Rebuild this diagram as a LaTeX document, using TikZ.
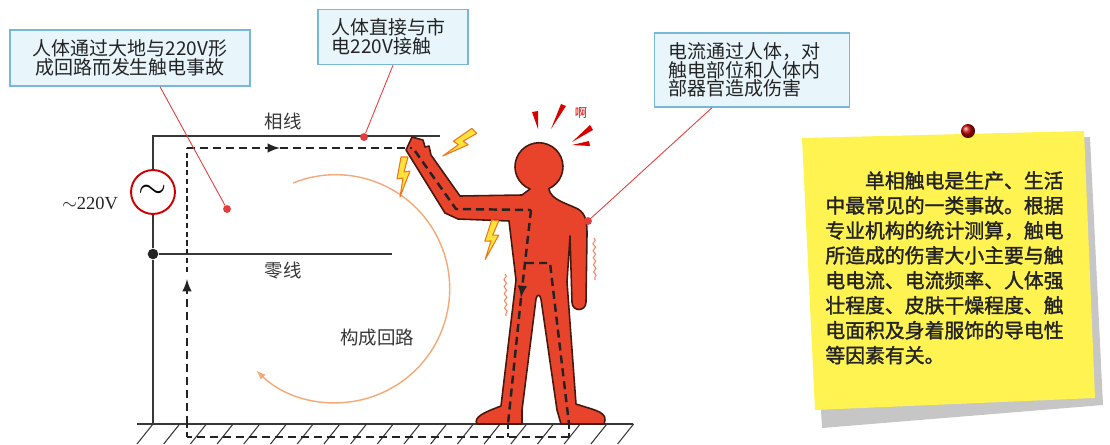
\documentclass[tikz,border=0pt]{standalone}
\usepackage{fontspec}
\setmainfont{Liberation Serif}
\newfontfamily\cjk{Noto Sans CJK SC}
\newfontfamily\cjknote[FakeBold=1.6]{Noto Sans CJK SC}
\usetikzlibrary{decorations.pathmorphing}

\definecolor{skin}{RGB}{232,68,44}
\definecolor{skinline}{RGB}{70,25,15}
\definecolor{boxfill}{RGB}{232,246,251}
\definecolor{boxline}{RGB}{118,184,214}
\definecolor{pointcol}{RGB}{226,62,62}
\definecolor{loopcol}{RGB}{244,168,118}
\definecolor{boltfill}{RGB}{255,226,60}
\definecolor{boltline}{RGB}{238,118,30}
\definecolor{notefill}{RGB}{255,243,82}
\definecolor{ink}{RGB}{35,35,35}
\definecolor{wirecol}{RGB}{55,55,55}

\tikzset{bolt/.pic={
  \filldraw[fill=boltfill, draw=boltline, line width=0.6pt, line join=round]
    (-2,-20) -- (5,-20) -- (1,-5) -- (7,-6) -- (-3,20) -- (0,1) -- (-6,2) -- cycle;}}

\begin{document}
\begin{tikzpicture}[x=0.02cm, y=-0.02cm,
    callout/.style={rectangle, draw=boxline, fill=boxfill, line width=0.8pt, inner sep=0pt,
      font=\cjk\fontsize{10.8pt}{10.6pt}\selectfont, text=ink},
    hit/.style={circle, fill=pointcol, inner sep=0pt, minimum size=4.5pt}]
    \tikzstyle{leader}=[pointcol, line width=0.5pt]
    \tikzstyle{flow}=[ink, line width=1.4pt, dash pattern=on 4.6pt off 2.8pt]
    \tikzstyle{thinflow}=[ink, line width=0.6pt, dash pattern=on 3pt off 2pt]
    \tikzstyle{wire}=[wirecol, line width=0.7pt]
    \tikzstyle{tag}=[font=\cjk\fontsize{10.5pt}{12pt}\selectfont, text=wirecol]
    \tikzstyle{shake}=[loopcol!80!red, line width=0.6pt, decorate,
      decoration={snake, amplitude=0.7pt, segment length=4pt}]

    \useasboundingbox (0,0) rectangle (1110,444);

    % mains, source and ground
    \node[circle, draw=red!80!black, fill=white, line width=1.1pt, minimum size=25pt,
      inner sep=0pt, font=\huge] (src) at (153,192) {$\sim$};
    \node[font=\fontsize{10.5pt}{12pt}\selectfont, text=ink] (volt) at (90,203) {$\sim$220V};
    \coordinate (top) at (153,136);
    \coordinate (phend) at (440,136);
    \node[circle, fill=ink, inner sep=0pt, minimum size=6pt] (jn) at (153,254) {};
    \coordinate (nend) at (392,254);
    \coordinate (gl) at (137,424);
    \coordinate (gr) at (633,424);
    \coordinate (foot) at (153,424);
    \draw[wire] (src) -- (top) -- (phend);
    \draw[wire] (src) -- (jn) -- (foot);
    \draw[wire] (jn) -- (nend);
    \draw[wire, line width=0.9pt] (gl) -- (gr);
    \foreach \i in {0,...,18}
      \draw[wire, line width=0.6pt] (153+26.7*\i,424) -- ++(-16,20);
    \node[tag] (phase) at (283,121) {相线};
    \node[tag] (neutral) at (283,271) {零线};

    % loop arrow
    \draw[loopcol, line width=0.8pt, -latex] (293,183) arc[start angle=-112, end angle=134, radius=114];
    \node[tag] (loop) at (377,338) {构成回路};

    % the person
    \filldraw[fill=skin, draw=skinline, line width=0.9pt, line join=round]
      (412,137) -- (423,140) -- (425,147) -- (429,146) -- (431,155)
      -- (460,196) -- (522,195)
      -- (530,189) arc[start angle=112, end angle=426, radius=24]
      .. controls (551,200) and (566,203) .. (578,209)
      .. controls (586,214) and (587,222) .. (587,234)
      -- (586,302) .. controls (586,312) and (572,312) .. (572,302)
      -- (570,236) -- (567,282) -- (576,404)
      .. controls (590,409) and (606,411) .. (605,420) -- (604,424) -- (561,424) -- (557,410)
      -- (541,299) .. controls (540,294) and (537,294) .. (536,299)
      -- (522,410) -- (522,424) -- (477,424)
      .. controls (473,417) and (485,412) .. (501,406)
      -- (516,280) -- (509,221) -- (458,219) -- (445,213) -- (406,150) -- cycle;

    % shouts over the head
    \fill[red!85!black] (532,112) -- (538,111) -- (538,129) -- cycle;
    \fill[red!85!black] (561,104) -- (566,106) -- (551,129) -- cycle;
    \fill[red!85!black] (590,125) -- (593,130) -- (572,142) -- cycle;
    \fill[red!85!black] (589,141) -- (590,146) -- (572,145) -- cycle;
    \node[font=\cjk\fontsize{7pt}{8pt}\selectfont, text=red!85!black] (ah) at (581,113) {啊};

    % sparks and trembling
    \pic[rotate=-45] at (459,144) {bolt};
    \pic at (403,177) {bolt};
    \pic[rotate=-8] at (491,240) {bolt};
    \draw[shake] (505,274) -- (506,316);
    \draw[shake] (594,238) -- (595,280);

    % current path
    \coordinate (tl) at (187,148);
    \coordinate (tarr) at (280,148);
    \coordinate (hand) at (412,148);
    \coordinate (elbow) at (456,209);
    \coordinate (chest) at (531,210);
    \coordinate (tarrow) at (521,298);
    \coordinate (lheel) at (508,424);
    \coordinate (lgnd) at (508,437);
    \coordinate (hip) at (526,263);
    \coordinate (rhip) at (550,263);
    \coordinate (rheel) at (569,424);
    \coordinate (rgnd) at (569,437);
    \coordinate (bl) at (187,437);
    \coordinate (larr) at (187,279);
    \coordinate (lmid) at (187,272);
    \draw[flow, -latex] (tl) -- (tarr);
    \draw[flow] (tarr) -- (hand);
    \draw[flow] (415,151) -- (elbow) -- (chest);
    \draw[flow, -latex] (chest) -- (tarrow);
    \draw[flow] (tarrow) -- (lheel);
    \draw[thinflow] (lheel) -- (lgnd);
    \draw[flow] (hip) -- (rhip) -- (rheel);
    \draw[thinflow] (rheel) -- (rgnd);
    \draw[flow, line width=1pt] (rgnd) -- (bl);
    \draw[thinflow] (bl) -- (187,424);
    \draw[flow, -latex] (187,424) -- (larr);
    \draw[thinflow] (lmid) -- (tl);

    % callouts
    \node[callout, minimum width=4.8cm, minimum height=1.12cm, align=center] (earthbox) at (130,58)
      {人体通过大地与220V形\\成回路而发生触电事故};
    \node[callout, minimum width=3cm, minimum height=1.1cm, align=left, text width=2.45cm] (touchbox) at (393,37)
      {人体直接与市\\电220V接触};
    \node[callout, minimum width=3.9cm, minimum height=1.48cm, align=left, text width=3.35cm] (harmbox) at (752,70)
      {电流通过人体，对\\触电部位和人体内\\部器官造成伤害};
    \node[hit] (hit1) at (227,209) {};
    \node[hit] (hit2) at (364,137) {};
    \node[hit] (hit3) at (588,221) {};
    \draw[leader] ([xshift=0.6cm]earthbox.south) -- (hit1);
    \draw[leader] (touchbox.south) -- (hit2);
    \draw[leader] ([xshift=-0.8cm]harmbox.south) -- (hit3);

    % sticky note
    \fill[gray!45] (806,146) -- (1090,137) -- (1103,405) -- (822,428) -- cycle;
    \fill[notefill] (802,138) -- (1084,131) -- (1095,398) -- (815,410) -- cycle;
    \shade[ball color=red!75!black] (968,131) circle[radius=7];
    \node[anchor=north west, inner sep=0pt, align=left, text=ink,
      font=\cjknote\fontsize{11.3pt}{14.2pt}\selectfont] (facts) at (825,171)
      {\hspace{2em}单相触电是生产、生活\\
       中最常见的一类事故。根据\\
       专业机构的统计测算，触电\\
       所造成的伤害大小主要与触\\
       电电流、电流频率、人体强\\
       壮程度、皮肤干燥程度、触\\
       电面积及身着服饰的导电性\\
       等因素有关。};
\end{tikzpicture}
\end{document}
